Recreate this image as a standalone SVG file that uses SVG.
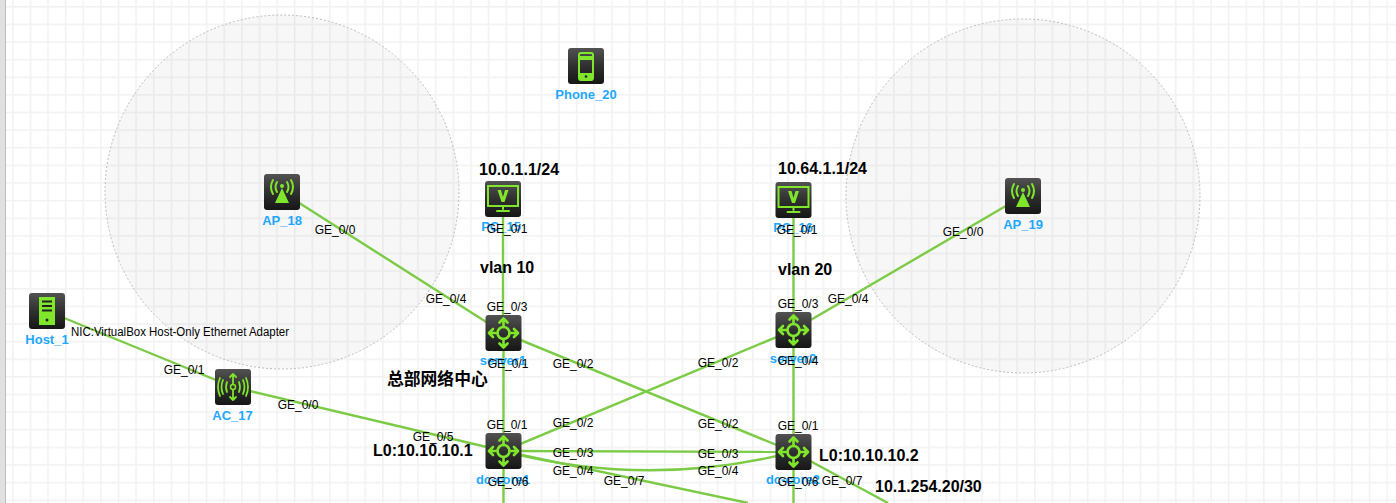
<svg xmlns="http://www.w3.org/2000/svg" xmlns:xlink="http://www.w3.org/1999/xlink" width="1396" height="503" viewBox="0 0 1396 503">
<defs>
<style>
text{font-family:"Liberation Sans",Arial,sans-serif}
.port{font-size:12px;fill:#000;text-anchor:middle}
.name{font-size:13px;font-weight:bold;fill:#1ea7ff;text-anchor:middle}
.note{font-size:16px;font-weight:bold;fill:#000}
.link{fill:none;stroke:#7ccb46;stroke-width:2.4}
.zone{fill:#000;fill-opacity:.033;stroke:#bbb;stroke-width:1;stroke-dasharray:2 2}
.g{stroke:#7fe62b;fill:none;stroke-width:2.4;stroke-linecap:round;stroke-linejoin:round}
.gf{fill:#7fe62b}
</style>
<linearGradient id="bg" x1="0" y1="0" x2="0" y2="1"><stop offset="0" stop-color="#525252"/><stop offset=".5" stop-color="#303030"/><stop offset="1" stop-color="#161616"/></linearGradient>
<pattern id="grid" x="12" y="6" width="17.62" height="17.62" patternUnits="userSpaceOnUse">
<rect x="0" y="0" width="17.62" height="1.600" fill="#f2f2f2"/>
<rect x="0" y="0" width="1.600" height="17.62" fill="#f2f2f2"/>
</pattern>
<rect id="tile" x="-18" y="-18" width="36" height="36" rx="3" fill="url(#bg)"/>
<g id="router">
<use href="#tile"/>
<circle r="6" class="g" style="stroke-width:2.6"/>
<path class="g" style="stroke-width:2.6" d="M0-6V-14M-4-10.500L0-14.500L4-10.500M0 6V14M-4 10.500L0 14.500L4 10.500M-6 0H-14M-10.500-4L-14.500 0L-10.500 4M6 0H14M10.500-4L14.500 0L10.500 4"/>
</g>
<g id="pc">
<use href="#tile"/>
<rect x="-15" y="-13" width="30" height="20" class="g" style="stroke-width:2;stroke-linejoin:miter"/>
<path class="gf" d="M-5.500-9H-2L0-2L2-9H5.500L1.500 3H-1.500Z"/>
<path class="g" d="M0 8V10M-6 12H6" style="stroke-width:2"/>
</g>
<g id="ap">
<use href="#tile"/>
<path class="gf" d="M0-4L7 11H-7Z"/>
<circle cy="-6" r="2" class="gf"/>
<path class="g" style="stroke-width:2" d="M-5-10Q-8-5-5 0M5-10Q8-5 5 0M-9-12Q-13-5-9 2M9-12Q13-5 9 2"/>
</g>
</defs>
<rect width="1396" height="503" fill="#fff"/>
<rect width="1396" height="503" fill="url(#grid)"/>
<rect x="0" y="0" width="5" height="503" fill="#e0e0e0"/>
<rect x="5" y="0" width="1" height="503" fill="#bdbdbd"/>
<circle class="zone" cx="282" cy="192" r="177"/>
<circle class="zone" cx="1023" cy="196" r="177"/>
<g id="connectors">
<path class="link" d="M47 311L233 387"/>
<path class="link" d="M233 387L503.500 451"/>
<path class="link" d="M282 192L503.500 333"/>
<path class="link" d="M503 199V333"/>
<path class="link" d="M503.500 333V503"/>
<path class="link" d="M503.500 333L793.500 452"/>
<path class="link" d="M793.500 200V330"/>
<path class="link" d="M793.500 330L1023 196"/>
<path class="link" d="M793.500 330L503.500 451"/>
<path class="link" d="M793.500 330V503"/>
<path class="link" d="M503.500 451L793.500 452"/>
<path class="link" d="M503.500 451Q648 489 793.500 452"/>
<path class="link" d="M503.500 451L748 503"/>
<path class="link" d="M793.500 452L888 503"/>
</g>
<g id="node-host1"><use href="#tile" x="47" y="311"/><rect x="39" y="297" width="16" height="28" fill="#7fe62b"/><path d="M42 301.500H52M42 306H52M42 310.500H52" stroke="#222" stroke-width="2"/><circle cx="47" cy="320" r="1.500" fill="#222"/><text class="name" x="47" y="344">Host_1</text></g>
<g id="node-ac17"><use href="#tile" x="233" y="387"/><g transform="translate(233 387)"><circle r="2.500" class="g" style="stroke-width:1.500"/><path class="g" style="stroke-width:1.800" d="M0-3V-13M-3-10L0-13L3-10M0 3V13M-3 10L0 13L3 10M-6-5Q-8 0-6 5M6-5Q8 0 6 5M-10-7Q-13 0-10 7M10-7Q13 0 10 7M-13-9Q-17 0-13 9M13-9Q17 0 13 9"/></g><text class="name" x="232.500" y="420">AC_17</text></g>
<g id="node-ap18"><use href="#ap" x="282" y="192"/><text class="name" x="282" y="225">AP_18</text></g>
<g id="node-ap19"><use href="#ap" x="1023" y="196"/><text class="name" x="1023" y="229">AP_19</text></g>
<g id="node-phone20"><use href="#tile" x="586" y="66"/><rect x="579" y="53" width="14" height="27" rx="2" class="g" style="stroke-width:2"/><path d="M579 56H593V60H579ZM579 73H593V79H579Z" class="gf"/><circle cx="586" cy="76.500" r="1.300" fill="#222"/><text class="name" x="586" y="99">Phone_20</text></g>
<g id="node-pc15"><use href="#pc" x="503" y="199"/><text class="name" x="501" y="231">PC_15</text></g>
<g id="node-pc16"><use href="#pc" x="793.500" y="200"/><text class="name" x="793" y="232">PC_16</text></g>
<g id="node-server1"><use href="#router" x="503.500" y="333"/><text class="name" x="503" y="365">server1</text></g>
<g id="node-server2"><use href="#router" x="793.500" y="330"/><text class="name" x="793" y="363">server2</text></g>
<g id="node-core1"><use href="#router" x="503.500" y="451"/><text class="name" x="503" y="484">dc-core1</text></g>
<g id="node-core2"><use href="#router" x="793.500" y="452"/><text class="name" x="793" y="484">dc-core2</text></g>
<g id="labels">
<text x="71" y="336" font-size="12" fill="#000" textLength="218" lengthAdjust="spacingAndGlyphs">NIC:VirtualBox Host-Only Ethernet Adapter</text>
<text class="port" x="184" y="374">GE_0/1</text>
<text class="port" x="298" y="409">GE_0/0</text>
<text class="port" x="433" y="441">GE_0/5</text>
<text class="port" x="335" y="234">GE_0/0</text>
<text class="port" x="446" y="303">GE_0/4</text>
<text class="port" x="507" y="233">GE_0/1</text>
<text class="port" x="797" y="234">GE_0/1</text>
<text class="port" x="507" y="311">GE_0/3</text>
<text class="port" x="798" y="308">GE_0/3</text>
<text class="port" x="848" y="303">GE_0/4</text>
<text class="port" x="963" y="236">GE_0/0</text>
<text class="port" x="508" y="368">GE_0/1</text>
<text class="port" x="573" y="368">GE_0/2</text>
<text class="port" x="718" y="367">GE_0/2</text>
<text class="port" x="798" y="365">GE_0/4</text>
<text class="port" x="507" y="429">GE_0/1</text>
<text class="port" x="573" y="427">GE_0/2</text>
<text class="port" x="718" y="428">GE_0/2</text>
<text class="port" x="798" y="430">GE_0/1</text>
<text class="port" x="573" y="457">GE_0/3</text>
<text class="port" x="718" y="458">GE_0/3</text>
<text class="port" x="573" y="475">GE_0/4</text>
<text class="port" x="718" y="475">GE_0/4</text>
<text class="port" x="624" y="485">GE_0/7</text>
<text class="port" x="842" y="485">GE_0/7</text>
<text class="port" x="508" y="486">GE_0/6</text>
<text class="port" x="798" y="486">GE_0/6</text>
<text class="note" x="479" y="175">10.0.1.1/24</text>
<text class="note" x="778" y="174">10.64.1.1/24</text>
<text class="note" x="480" y="273">vlan 10</text>
<text class="note" x="778" y="275">vlan 20</text>
<text class="note" x="387" y="385" style="font-family:'Noto Sans CJK SC','Liberation Sans',sans-serif;font-size:16.800px">总部网络中心</text>
<text class="note" x="373" y="456">L0:10.10.10.1</text>
<text class="note" x="819" y="461">L0:10.10.10.2</text>
<text class="note" x="875" y="492">10.1.254.20/30</text>
</g>
</svg>
